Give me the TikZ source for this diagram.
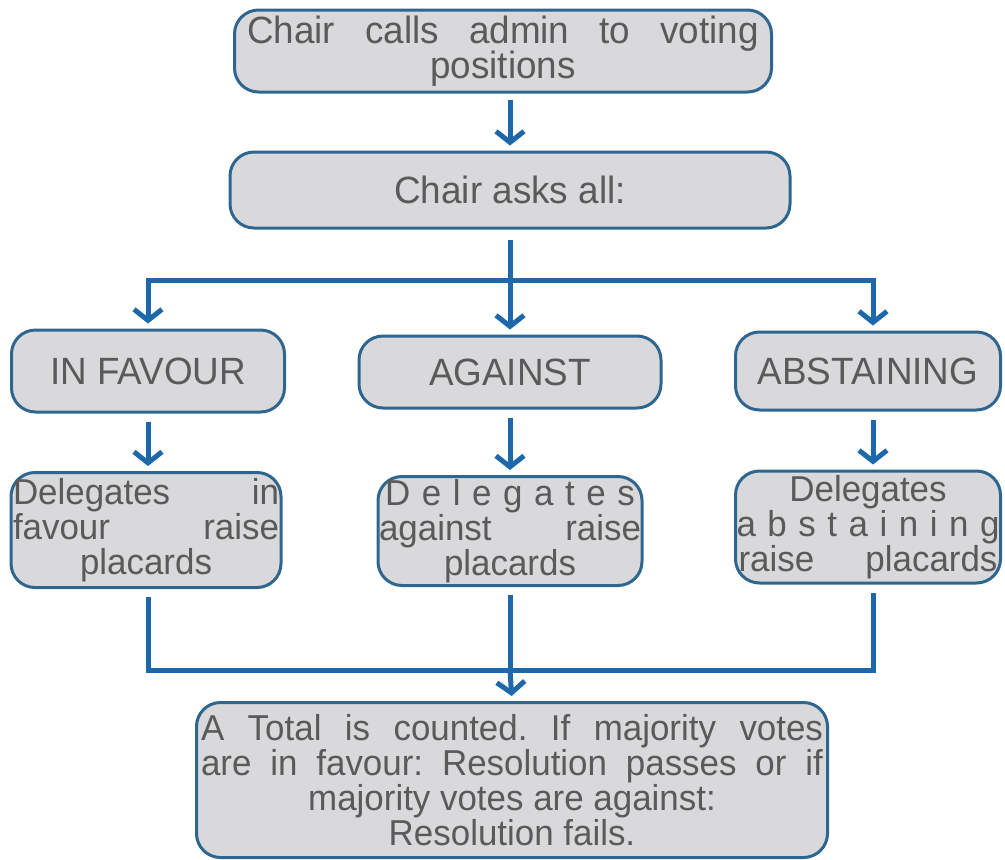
\documentclass[tikz,border=0pt]{standalone}
\usepackage{fontspec}
\setmainfont[FakeStretch=0.97]{Liberation Sans}
\usetikzlibrary{arrows.meta}
\definecolor{boxfill}{HTML}{D9D9DB}
\definecolor{boxedge}{HTML}{2E6690}
\definecolor{linkblue}{HTML}{1C68AB}
\definecolor{txtgray}{HTML}{5A5A5A}
\newcommand\jline[2]{\makebox[#1pt][s]{#2}}
\frenchspacing
\begin{document}
\begin{tikzpicture}[x=1pt,y=-1pt,
  box/.style={draw=boxedge, line width=3pt, fill=boxfill, rounded corners=24pt,
    inner sep=0pt, text=txtgray, align=center,
    font={\fontsize{38}{35}\selectfont\lineskiplimit=-100pt\lineskip=0pt}},
  multibox/.style={box, font={\fontsize{36}{35}\selectfont\lineskiplimit=-100pt\lineskip=0pt}},
  link/.style={draw=linkblue, line width=5pt},
  arr/.style={link, -{Straight Barb[length=11pt,width=28pt,line width=5pt]}, shorten >=5pt}
]
\useasboundingbox (0,0) rectangle (1005,860);
% boxes
\node[box, minimum width=537pt, minimum height=82pt] (call) at (503,51)
  {\jline{512}{Chair calls admin to voting}\\positions};
\node[box, minimum width=560pt, minimum height=76pt] (ask) at (510,190) {Chair asks all:};
\node[box, minimum width=273pt, minimum height=82pt] (fav) at (148,371) {IN FAVOUR};
\node[box, minimum width=302pt, minimum height=72pt] (against) at (510,372) {AGAINST};
\node[box, minimum width=265pt, minimum height=78pt] (abst) at (868,371) {ABSTAINING};
\node[multibox, minimum width=270pt, minimum height=115pt] (d1) at (146,530)
  {\jline{266}{Delegates in}\\\jline{266}{favour raise}\\placards};
\node[multibox, minimum width=264pt, minimum height=109pt] (d2) at (510,531)
  {\jline{250}{D e l e g a t e s}\\\jline{262}{against raise}\\placards};
\node[multibox, minimum width=265pt, minimum height=112pt] (d3) at (868,527)
  {Delegates\\\jline{263}{a b s t a i n i n g}\\\jline{259}{raise placards}};
\node[multibox, minimum width=631pt, minimum height=155pt] (total) at (512,780)
  {\jline{622}{A Total is counted. If majority votes}\\
   \jline{622}{are in favour: Resolution passes or if}\\
   majority votes are against:\\Resolution fails.};
% coordinates
\coordinate (hub) at (510,280);
\coordinate (hubL) at (148,280);
\coordinate (hubR) at (873,280);
\coordinate (jL) at (148,670);
\coordinate (jM) at (510,670);
\coordinate (jR) at (873,670);
% connectors
\draw[arr, shorten <=6pt] (ask.north |- call.south) -- (ask.north);
\draw[arr, shorten <=10pt] (ask.south) -- (against.north);
\draw[arr] (hub) -- (hubL) -- (hubL |- fav.north);
\draw[arr] (hub) -- (hubR) -- (hubR |- abst.north);
\draw[arr, shorten <=8pt] (fav.south) -- (fav.south |- d1.north);
\draw[arr, shorten <=8pt] (against.south) -- (d2.north);
\draw[arr, shorten <=8pt] (hubR |- abst.south) -- (hubR |- d3.north);
\draw[link, shorten <=8pt, shorten >=8pt] (jL |- d1.south) -- (jL) -- (jR) -- (jR |- d3.south);
\draw[link, shorten <=8pt] (d2.south) -- (jM);
\draw[arr] (jM) -- (total.north);
\end{tikzpicture}
\end{document}
